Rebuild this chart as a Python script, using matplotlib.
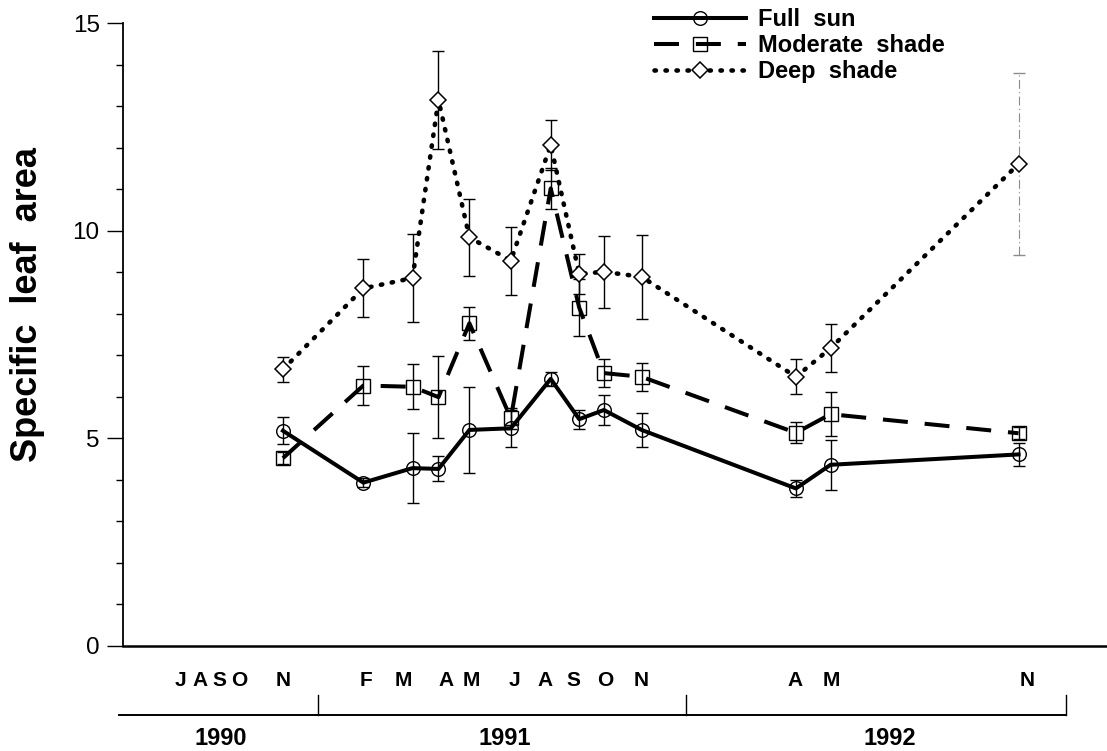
import matplotlib
matplotlib.use("Agg")
import matplotlib.pyplot as plt
from matplotlib.ticker import MultipleLocator
from matplotlib.transforms import blended_transform_factory

plt.rcParams['font.family'] = ['Liberation Sans', 'DejaVu Sans']

# Sampling dates, in months counted from 1 January 1990
sample_months = [10.5, 13.10, 14.69, 15.53, 16.53, 17.87, 19.16, 20.08,
                 20.88, 22.10, 27.09, 28.21, 34.29]

full_sun = [5.18, 3.93, 4.28, 4.26, 5.20, 5.24, 6.43, 5.46, 5.68, 5.20,
            3.79, 4.36, 4.61]
full_sun_err = [0.33, 0.10, 0.84, 0.30, 1.04, 0.45, 0.17, 0.23, 0.37, 0.40,
                0.20, 0.60, 0.27]

moderate_shade = [4.52, 6.27, 6.24, 5.99, 7.77, 5.48, 11.02, 8.15, 6.57,
                  6.48, 5.13, 5.58, 5.12]
moderate_shade_err = [0.15, 0.48, 0.54, 0.98, 0.40, 0.25, 0.50, 0.69, 0.33,
                      0.34, 0.25, 0.53, 0.15]

deep_shade = [6.66, 8.61, 8.86, 13.15, 9.84, 9.28, 12.07, 8.96, 9.01, 8.89,
              6.48, 7.17, 11.61]
deep_shade_err = [0.30, 0.70, 1.05, 1.18, 0.92, 0.82, 0.60, 0.48, 0.87, 1.01,
                  0.42, 0.58, 2.20]

series_labels = ['Full  sun', 'Moderate  shade', 'Deep  shade']

month_letters = ['J', 'A', 'S', 'O', 'N', 'F', 'M', 'A', 'M', 'J', 'A', 'S',
                 'O', 'N', 'A', 'M', 'N']
month_positions = [7.17, 7.82, 8.46, 9.08, 10.5, 13.18, 14.38, 15.77, 16.58,
                   18.0, 18.97, 19.91, 20.91, 22.08, 27.06, 28.22, 34.56]

years = ['1990', '1991', '1992']
year_label_positions = [8.49, 17.68, 30.13]
year_boundaries = [5.20, 11.63, 23.53, 35.82]

fig = plt.figure(figsize=(11.07, 7.51), dpi=100)
ax = fig.add_axes([0.1108, 0.1402, 0.8892, 0.8288])
ax.set_xlim(5.316, 37.15)
ax.set_ylim(0, 15)

for s in ('top', 'right'):
    ax.spines[s].set_visible(False)
ax.spines['left'].set_linewidth(1.3)
ax.spines['bottom'].set_linewidth(1.8)

ax.yaxis.set_major_locator(MultipleLocator(5))
ax.yaxis.set_minor_locator(MultipleLocator(1))
ax.tick_params(axis='y', which='major', length=11.5, width=1.0,
               labelsize=17.5, pad=5)
ax.tick_params(axis='y', which='minor', length=5, width=1.0)
ax.set_xticks([])

err_kw = dict(fmt='none', ecolor='black', elinewidth=1.0, capsize=4,
              capthick=1.0, zorder=2)

# Error bars
ax.errorbar(sample_months, full_sun, yerr=full_sun_err, **err_kw)
ax.errorbar(sample_months, moderate_shade, yerr=moderate_shade_err, **err_kw)
ax.errorbar(sample_months[:-1], deep_shade[:-1], yerr=deep_shade_err[:-1],
            **err_kw)
eb = ax.errorbar(sample_months[-1:], deep_shade[-1:], yerr=deep_shade_err[-1:],
                 fmt='none', ecolor='0.55', elinewidth=0.8, capsize=4,
                 capthick=1.0, zorder=2)
eb[2][0].set_linestyle((0, (8, 3, 1, 3)))

# Series lines with markers
ax.plot(sample_months, full_sun, color='black', lw=2.9, ls='-',
        marker='o', ms=9.8, mfc='none', mec='black', mew=1.0,
        solid_joinstyle='round', label=series_labels[0], zorder=4)
ax.plot(sample_months, moderate_shade, color='black', lw=2.9,
        ls=(0, (6.2, 4.2)), marker='s', ms=10, mfc='none', mec='black',
        mew=1.0, dash_capstyle='butt', label=series_labels[1], zorder=4)
ax.plot(sample_months, deep_shade, color='black', lw=3.3,
        ls=(0, (0.3, 2.1)), dash_capstyle='round', marker='D', ms=8,
        mfc='white', mec='black', mew=1.1, label=series_labels[2], zorder=4)

leg = ax.legend(loc='upper left', bbox_to_anchor=(654 / 1107, 1 - 8 / 751),
                bbox_transform=fig.transFigure, frameon=False,
                handlelength=3.9, handletextpad=0.5, labelspacing=0.13,
                borderpad=0, borderaxespad=0, numpoints=1,
                prop={'weight': 'bold', 'size': 17})

# Month letters under the axis
tr = blended_transform_factory(ax.transData, ax.transAxes)
for letter, pos in zip(month_letters, month_positions):
    ax.text(pos, -0.064, letter, transform=tr, ha='center', va='baseline',
            fontsize=15, fontweight='bold')

# Year bar with separators and year labels
ax.plot([year_boundaries[0], year_boundaries[-1]], [-0.1113, -0.1113],
        transform=tr, color='black', lw=1.4, clip_on=False)
for b in year_boundaries[1:]:
    ax.plot([b, b], [-0.1113, -0.0792], transform=tr, color='black', lw=1.0,
            clip_on=False)
for yr, pos in zip(years, year_label_positions):
    ax.text(pos, -0.1595, yr, transform=tr, ha='center', va='baseline',
            fontsize=17, fontweight='bold')

fig.text(28 / 1107, 1 - 305 / 751, 'Specific  leaf  area', rotation=90,
         ha='center', va='center', fontsize=26, fontweight='bold')

fig.savefig('out.png', dpi=100)
